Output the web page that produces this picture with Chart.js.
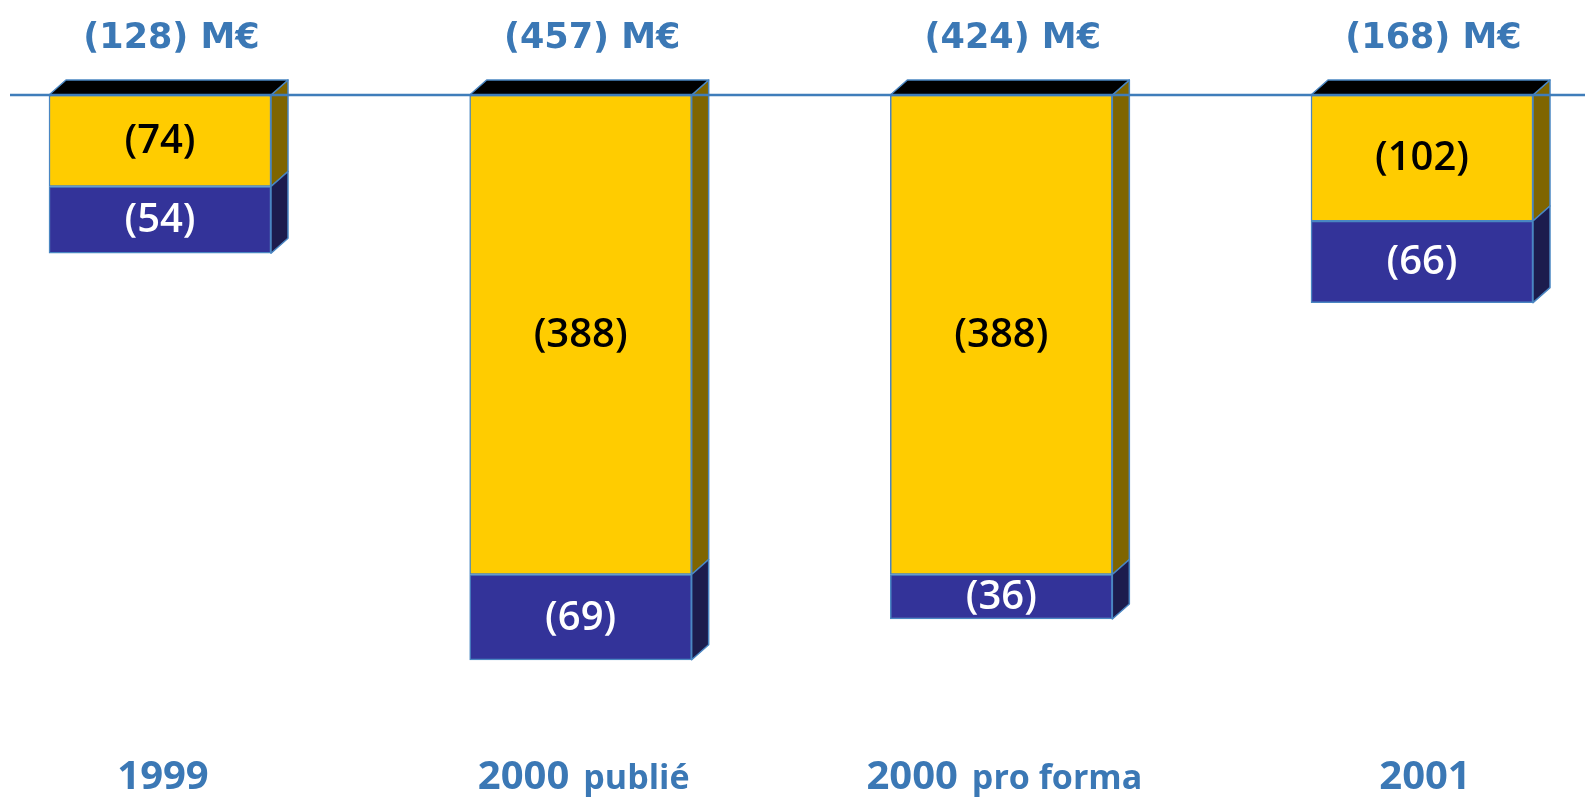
<!DOCTYPE html>
<html>
<head>
<meta charset="utf-8">
<script src="https://cdn.jsdelivr.net/npm/chart.js@4"></script>
<style>
    body { margin: 0; background: #fff; }
    #wrap { width: 1585px; height: 797px; position: relative; }
</style>
</head>
<body>
<div id="wrap"><canvas id="costChart"></canvas></div>
<script>
// data (M€, costs shown as negatives)

const categories = ['1999', '2000 publié', '2000 pro forma', '2001'];
const yellowValues = [-74, -388, -388, -102];
const blueValues = [-54, -69, -36, -66];

const YELLOW = '#FFCC00';
const BLUE = '#333399';
const YELLOW_SIDE = '#7F6500';
const BLUE_SIDE = '#1C1C4E';
const EDGE = '#4A86C2';
const TEXT_BLUE = '#3B78B5';
const DX = 17;
const DY = 15;

const fmt = v => '(' + Math.abs(v) + ')';

// 3d faces, baseline, labels
const boxPlugin = {
    id: 'box3d',
    afterDatasetsDraw(chart) {
        const ctx = chart.ctx;
        const metas = [chart.getDatasetMeta(0), chart.getDatasetMeta(1)];
        const sideColors = [YELLOW_SIDE, BLUE_SIDE];

        ctx.save();
        ctx.lineWidth = 1.5;
        ctx.strokeStyle = EDGE;
        ctx.lineJoin = 'round';

        categories.forEach((c, i) => {
            let stackTop = Infinity;
            let left = 0, right = 0;
            metas.forEach((meta, d) => {
                const bar = meta.data[i];
                const top = Math.min(bar.y, bar.base);
                const bottom = Math.max(bar.y, bar.base);
                left = bar.x - bar.width / 2;
                right = bar.x + bar.width / 2;
                stackTop = Math.min(stackTop, top);

                ctx.beginPath();
                ctx.moveTo(right, top);
                ctx.lineTo(right + DX, top - DY);
                ctx.lineTo(right + DX, bottom - DY);
                ctx.lineTo(right, bottom);
                ctx.closePath();
                ctx.fillStyle = sideColors[d];
                ctx.fill();
                ctx.stroke();
            });

            ctx.beginPath();
            ctx.moveTo(left, stackTop);
            ctx.lineTo(left + DX, stackTop - DY);
            ctx.lineTo(right + DX, stackTop - DY);
            ctx.lineTo(right, stackTop);
            ctx.closePath();
            ctx.fillStyle = '#000';
            ctx.fill();
            ctx.stroke();
        });

        // zero line
        const y0 = chart.scales.y.getPixelForValue(0);
        ctx.beginPath();
        ctx.moveTo(10, y0);
        ctx.lineTo(chart.width, y0);
        ctx.lineWidth = 2.5;
        ctx.strokeStyle = '#3F7DBA';
        ctx.stroke();

        // values inside the segments
        ctx.textAlign = 'center';
        ctx.textBaseline = 'middle';
        ctx.font = '600 40px "Open Sans"';
        metas.forEach((meta, d) => {
            const values = d === 0 ? yellowValues : blueValues;
            meta.data.forEach((bar, i) => {
                ctx.fillStyle = d === 0 ? '#000' : '#fff';
                ctx.fillText(fmt(values[i]), bar.x, (bar.y + bar.base) / 2 + 1);
            });
        });

        // totals above the boxes
        ctx.font = 'bold 35px "DejaVu Sans"';
        ctx.fillStyle = TEXT_BLUE;
        ctx.textBaseline = 'alphabetic';
        categories.forEach((c, i) => {
            const total = yellowValues[i] + blueValues[i];
            const x = metas[0].data[i].x + DX / 2 + 3;
            ctx.fillText(fmt(total) + ' M€', x, y0 - 47);
        });

        // category labels
        ctx.textAlign = 'left';
        categories.forEach((c, i) => {
            const x = metas[0].data[i].x + 3;
            const parts = c.split(' ');
            const head = parts[0];
            const rest = parts.length > 1 ? parts.slice(1).join(' ') : '';
            const gap = rest ? 14 : 0;
            ctx.font = 'bold 40px "Open Sans"';
            const w1 = ctx.measureText(head).width;
            ctx.font = 'bold 34px "Open Sans"';
            const w2 = rest ? ctx.measureText(rest).width : 0;
            const start = x - (w1 + gap + w2) / 2;
            ctx.font = 'bold 40px "Open Sans"';
            ctx.fillText(head, start, 789);
            if (rest) {
                ctx.font = 'bold 34px "Open Sans"';
                ctx.fillText(rest, start + w1 + gap, 789);
            }
        });

        ctx.restore();
    }
};

const costChart = new Chart(document.getElementById('costChart'), {
    type: 'bar',
    data: {
        labels: categories,
        datasets: [
            {
                label: 'A',
                data: yellowValues,
                backgroundColor: YELLOW,
                borderColor: EDGE,
                borderWidth: 1.5,
                borderSkipped: false,
                barThickness: 222,
                clip: false,
            },
            {
                label: 'B',
                data: blueValues,
                backgroundColor: BLUE,
                borderColor: EDGE,
                borderWidth: 1.5,
                borderSkipped: false,
                barThickness: 222,
                clip: false,
            },
        ],
    },
    options: {
        responsive: true,
        maintainAspectRatio: false,
        animation: false,
        layout: { padding: { left: 160, right: 163, top: 95, bottom: 89 } },
        plugins: {
            legend: { display: false },
            tooltip: { enabled: false },
        },
        scales: {
            x: { stacked: true, offset: false, display: false },
            y: { stacked: true, min: -496, max: 0, display: false },
        },
    },
    plugins: [boxPlugin],
});
</script>
</body>
</html>
